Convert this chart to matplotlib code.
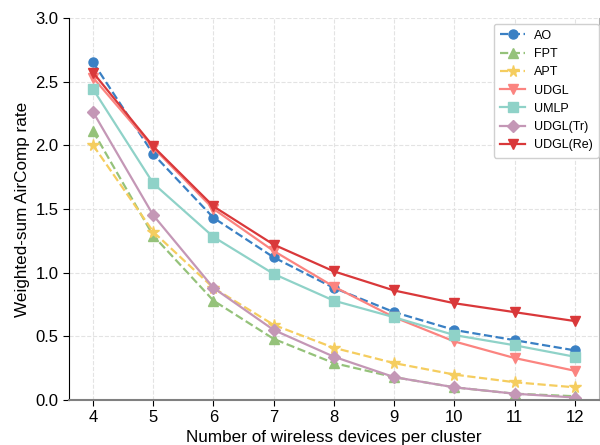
import matplotlib.pyplot as plt

plt.rcParams['font.family'] = ['Liberation Sans', 'DejaVu Sans']

# devices per cluster
devices = [4, 5, 6, 7, 8, 9, 10, 11, 12]

ao = [2.65, 1.93, 1.43, 1.12, 0.88, 0.69, 0.55, 0.47, 0.39]
fpt = [2.11, 1.29, 0.78, 0.48, 0.29, 0.18, 0.10, 0.05, 0.03]
apt = [2.00, 1.32, 0.88, 0.59, 0.41, 0.29, 0.20, 0.14, 0.10]
udgl = [2.53, 1.98, 1.50, 1.17, 0.89, 0.65, 0.46, 0.33, 0.23]
umlp = [2.44, 1.70, 1.28, 0.99, 0.78, 0.65, 0.51, 0.43, 0.34]
udgl_tr = [2.26, 1.45, 0.88, 0.55, 0.34, 0.18, 0.10, 0.05, 0.02]
udgl_re = [2.57, 1.99, 1.52, 1.22, 1.01, 0.86, 0.76, 0.69, 0.62]

series = [
    ("AO", ao, "#3a80c4", "o", "--"),
    ("FPT", fpt, "#95c27a", "^", "--"),
    ("APT", apt, "#f5cd5f", "*", "--"),
    ("UDGL", udgl, "#fb8480", "v", "-"),
    ("UMLP", umlp, "#8fd2c8", "s", "-"),
    ("UDGL(Tr)", udgl_tr, "#c497b6", "D", "-"),
    ("UDGL(Re)", udgl_re, "#d9383a", "v", "-"),
]

fig = plt.figure(figsize=(6, 4.45), dpi=100)
ax = fig.add_axes([0.115, 0.101, 0.883, 0.859])

for name, vals, color, marker, ls in series:
    ms = 8.5 if marker == "*" else 6.5
    ax.plot(devices, vals, color=color, marker=marker, linestyle=ls,
            linewidth=1.6, markersize=ms, label=name)

ax.set_xlim(3.6, 12.4)
ax.set_ylim(0, 3.0)
ax.set_xticks(devices)
ax.set_yticks([0, 0.5, 1.0, 1.5, 2.0, 2.5, 3.0])
ax.tick_params(labelsize=12, direction='out', length=4)
ax.grid(True, linestyle='--', color='#e3e3e3', linewidth=0.8)
ax.set_axisbelow(True)

ax.spines['top'].set_visible(False)
ax.spines['left'].set_color('black')
ax.spines['bottom'].set_color('#808080')
ax.spines['bottom'].set_linewidth(1.5)
ax.spines['right'].set_color('#b0b0b0')

ax.set_xlabel("Number of wireless devices per cluster", fontsize=12.3, labelpad=3)
ax.set_ylabel("Weighted-sum AirComp rate", fontsize=12.3)

ax.legend(loc='upper right', bbox_to_anchor=(1.0, 0.985), borderaxespad=0,
          fontsize=9, handlelength=2.0, handletextpad=0.7, framealpha=1,
          edgecolor='#d0d0d0', labelspacing=0.5, borderpad=0.5)

fig.savefig("out.png", dpi=100)
